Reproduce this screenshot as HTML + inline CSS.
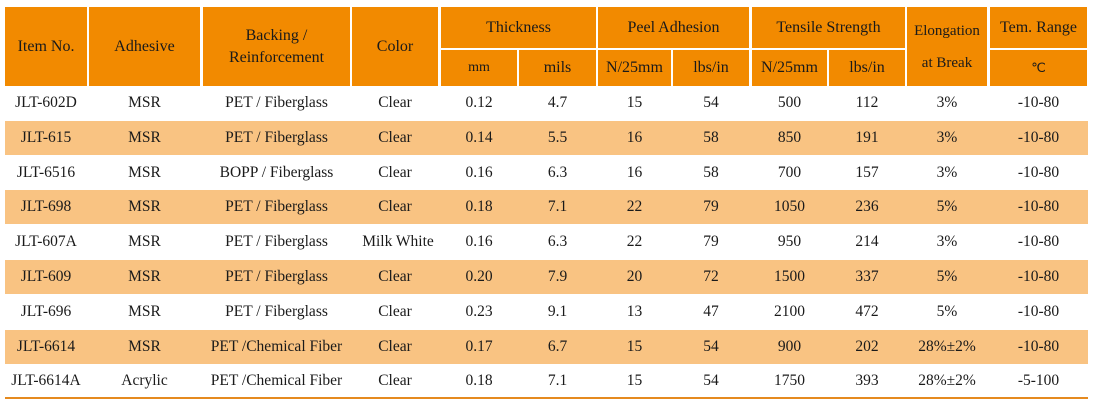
<!DOCTYPE html>
<html><head><style>
body{margin:0;width:1094px;height:401px;background:#fff;position:relative;overflow:hidden;font-family:"Liberation Serif",serif;color:#1a1a1a;}
.h{position:absolute;background:#f28a00;display:flex;align-items:center;justify-content:center;text-align:center;font-family:"Liberation Serif",serif;font-size:16px;line-height:22px;color:#1a1a1a;}
.r{position:absolute;left:5px;width:1083px;height:34px;}
.r.s{background:#f9c382;}
.c{position:absolute;top:0;height:34px;line-height:34px;text-align:center;font-family:"Liberation Serif",serif;font-size:15.5px;}
.line{position:absolute;left:5px;width:1083px;top:397px;height:2px;background:#e58a1f;}
</style></head><body>
<div class="h" style="left:5px;top:7px;width:82px;height:79px">Item No.</div>
<div class="h" style="left:89px;top:7px;width:111px;height:79px">Adhesive</div>
<div class="h" style="left:203px;top:7px;width:147px;height:79px">Backing /<br>Reinforcement</div>
<div class="h" style="left:352px;top:7px;width:86px;height:79px">Color</div>
<div class="h" style="left:441px;top:7px;width:155px;height:41px">Thickness</div>
<div class="h" style="left:598px;top:7px;width:151px;height:41px">Peel Adhesion</div>
<div class="h" style="left:752px;top:7px;width:153px;height:41px">Tensile Strength</div>
<div class="h" style="left:907px;top:7px;width:80px;height:79px;font-size:15px;line-height:32px">Elongation<br>at Break</div>
<div class="h" style="left:990px;top:7px;width:97px;height:41px">Tem. Range</div>
<div class="h" style="left:441px;top:50px;width:76px;height:36px;font-size:14px">mm</div>
<div class="h" style="left:519px;top:50px;width:77px;height:36px">mils</div>
<div class="h" style="left:598px;top:50px;width:73px;height:36px">N/25mm</div>
<div class="h" style="left:673px;top:50px;width:76px;height:36px">lbs/in</div>
<div class="h" style="left:752px;top:50px;width:75px;height:36px">N/25mm</div>
<div class="h" style="left:829px;top:50px;width:76px;height:36px">lbs/in</div>
<div class="h" style="left:990px;top:50px;width:97px;height:36px;font-size:13px">℃</div>

<div class="r" style="top:86px"><div class="c" style="left:0;width:82px">JLT-602D</div><div class="c" style="left:84px;width:111px">MSR</div><div class="c" style="left:198px;width:147px">PET / Fiberglass</div><div class="c" style="left:347px;width:86px">Clear</div><div class="c" style="left:436px;width:76px">0.12</div><div class="c" style="left:514px;width:77px">4.7</div><div class="c" style="left:593px;width:73px">15</div><div class="c" style="left:668px;width:76px">54</div><div class="c" style="left:747px;width:75px">500</div><div class="c" style="left:824px;width:76px">112</div><div class="c" style="left:902px;width:80px">3%</div><div class="c" style="left:985px;width:97px">-10-80</div></div>
<div class="r s" style="top:121px"><div class="c" style="left:0;width:82px">JLT-615</div><div class="c" style="left:84px;width:111px">MSR</div><div class="c" style="left:198px;width:147px">PET / Fiberglass</div><div class="c" style="left:347px;width:86px">Clear</div><div class="c" style="left:436px;width:76px">0.14</div><div class="c" style="left:514px;width:77px">5.5</div><div class="c" style="left:593px;width:73px">16</div><div class="c" style="left:668px;width:76px">58</div><div class="c" style="left:747px;width:75px">850</div><div class="c" style="left:824px;width:76px">191</div><div class="c" style="left:902px;width:80px">3%</div><div class="c" style="left:985px;width:97px">-10-80</div></div>
<div class="r" style="top:156px"><div class="c" style="left:0;width:82px">JLT-6516</div><div class="c" style="left:84px;width:111px">MSR</div><div class="c" style="left:198px;width:147px">BOPP / Fiberglass</div><div class="c" style="left:347px;width:86px">Clear</div><div class="c" style="left:436px;width:76px">0.16</div><div class="c" style="left:514px;width:77px">6.3</div><div class="c" style="left:593px;width:73px">16</div><div class="c" style="left:668px;width:76px">58</div><div class="c" style="left:747px;width:75px">700</div><div class="c" style="left:824px;width:76px">157</div><div class="c" style="left:902px;width:80px">3%</div><div class="c" style="left:985px;width:97px">-10-80</div></div>
<div class="r s" style="top:190px"><div class="c" style="left:0;width:82px">JLT-698</div><div class="c" style="left:84px;width:111px">MSR</div><div class="c" style="left:198px;width:147px">PET / Fiberglass</div><div class="c" style="left:347px;width:86px">Clear</div><div class="c" style="left:436px;width:76px">0.18</div><div class="c" style="left:514px;width:77px">7.1</div><div class="c" style="left:593px;width:73px">22</div><div class="c" style="left:668px;width:76px">79</div><div class="c" style="left:747px;width:75px">1050</div><div class="c" style="left:824px;width:76px">236</div><div class="c" style="left:902px;width:80px">5%</div><div class="c" style="left:985px;width:97px">-10-80</div></div>
<div class="r" style="top:225px"><div class="c" style="left:0;width:82px">JLT-607A</div><div class="c" style="left:84px;width:111px">MSR</div><div class="c" style="left:198px;width:147px">PET / Fiberglass</div><div class="c" style="left:347px;width:92px">Milk White</div><div class="c" style="left:436px;width:76px">0.16</div><div class="c" style="left:514px;width:77px">6.3</div><div class="c" style="left:593px;width:73px">22</div><div class="c" style="left:668px;width:76px">79</div><div class="c" style="left:747px;width:75px">950</div><div class="c" style="left:824px;width:76px">214</div><div class="c" style="left:902px;width:80px">3%</div><div class="c" style="left:985px;width:97px">-10-80</div></div>
<div class="r s" style="top:260px"><div class="c" style="left:0;width:82px">JLT-609</div><div class="c" style="left:84px;width:111px">MSR</div><div class="c" style="left:198px;width:147px">PET / Fiberglass</div><div class="c" style="left:347px;width:86px">Clear</div><div class="c" style="left:436px;width:76px">0.20</div><div class="c" style="left:514px;width:77px">7.9</div><div class="c" style="left:593px;width:73px">20</div><div class="c" style="left:668px;width:76px">72</div><div class="c" style="left:747px;width:75px">1500</div><div class="c" style="left:824px;width:76px">337</div><div class="c" style="left:902px;width:80px">5%</div><div class="c" style="left:985px;width:97px">-10-80</div></div>
<div class="r" style="top:295px"><div class="c" style="left:0;width:82px">JLT-696</div><div class="c" style="left:84px;width:111px">MSR</div><div class="c" style="left:198px;width:147px">PET / Fiberglass</div><div class="c" style="left:347px;width:86px">Clear</div><div class="c" style="left:436px;width:76px">0.23</div><div class="c" style="left:514px;width:77px">9.1</div><div class="c" style="left:593px;width:73px">13</div><div class="c" style="left:668px;width:76px">47</div><div class="c" style="left:747px;width:75px">2100</div><div class="c" style="left:824px;width:76px">472</div><div class="c" style="left:902px;width:80px">5%</div><div class="c" style="left:985px;width:97px">-10-80</div></div>
<div class="r s" style="top:330px"><div class="c" style="left:0;width:82px">JLT-6614</div><div class="c" style="left:84px;width:111px">MSR</div><div class="c" style="left:198px;width:147px">PET /Chemical Fiber</div><div class="c" style="left:347px;width:86px">Clear</div><div class="c" style="left:436px;width:76px">0.17</div><div class="c" style="left:514px;width:77px">6.7</div><div class="c" style="left:593px;width:73px">15</div><div class="c" style="left:668px;width:76px">54</div><div class="c" style="left:747px;width:75px">900</div><div class="c" style="left:824px;width:76px">202</div><div class="c" style="left:902px;width:80px">28%±2%</div><div class="c" style="left:985px;width:97px">-10-80</div></div>
<div class="r" style="top:364px"><div class="c" style="left:0;width:82px">JLT-6614A</div><div class="c" style="left:84px;width:111px">Acrylic</div><div class="c" style="left:198px;width:147px">PET /Chemical Fiber</div><div class="c" style="left:347px;width:86px">Clear</div><div class="c" style="left:436px;width:76px">0.18</div><div class="c" style="left:514px;width:77px">7.1</div><div class="c" style="left:593px;width:73px">15</div><div class="c" style="left:668px;width:76px">54</div><div class="c" style="left:747px;width:75px">1750</div><div class="c" style="left:824px;width:76px">393</div><div class="c" style="left:902px;width:80px">28%±2%</div><div class="c" style="left:985px;width:97px">-5-100</div></div>
<div class="line"></div>
</body></html>
